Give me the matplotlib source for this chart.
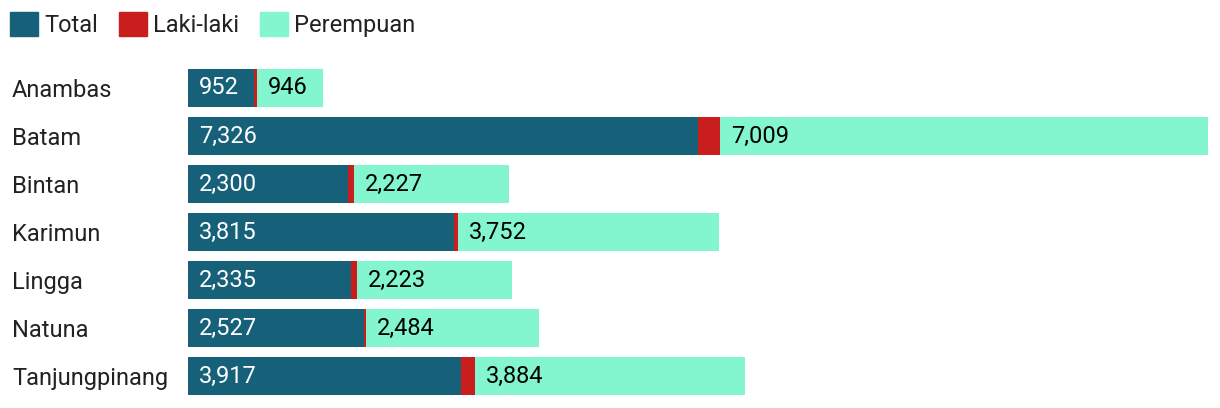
import numpy as np
import matplotlib.pyplot as plt
from matplotlib.patches import Patch

plt.rcParams['font.family'] = ['Roboto', 'DejaVu Sans']

regions = ["Anambas", "Batam", "Bintan", "Karimun", "Lingga", "Natuna", "Tanjungpinang"]
total = [952, 7326, 2300, 3815, 2335, 2527, 3917]
laki = [35, 310, 85, 60, 90, 30, 200]
perempuan = [946, 7009, 2227, 3752, 2223, 2484, 3884]

c_total = "#17607a"
c_laki = "#c81e1e"
c_perem = "#83f6d0"

fig = plt.figure(figsize=(12.2, 4.08), dpi=100)
ax = fig.add_axes([188 / 1220, 8 / 408, 1020 / 1220, 336 / 408])

y = np.arange(len(regions))
total = np.array(total)
laki = np.array(laki)
perempuan = np.array(perempuan)

h = 0.81
ax.barh(y, total, height=h, color=c_total)
ax.barh(y, laki, left=total, height=h, color=c_laki)
ax.barh(y, perempuan, left=total + laki, height=h, color=c_perem)

# value labels, a little inside the segment start
off = 155
for i in range(len(regions)):
    ax.text(off, y[i], f"{total[i]:,}", color="white", va="center", ha="left", fontsize=17)
    ax.text(total[i] + laki[i] + off, y[i], f"{perempuan[i]:,}", color="black",
            va="center", ha="left", fontsize=17)

ax.set_xlim(0, (total + laki + perempuan).max())
ax.set_ylim(len(regions) - 0.5, -0.5)
ax.set_xticks([])
ax.set_yticks(y)
ax.set_yticklabels(regions, fontsize=17, color="#222222", ha="left")
ax.tick_params(axis="y", length=0, pad=126.7)
for s in ax.spines.values():
    s.set_visible(False)

handles = [Patch(color=c_total, label="Total"),
           Patch(color=c_laki, label="Laki-laki"),
           Patch(color=c_perem, label="Perempuan")]
leg = fig.legend(handles=handles, loc="upper left", bbox_to_anchor=(10 / 1220, 1 - 12 / 408),
                 ncol=3, frameon=False, fontsize=17, handlelength=1.19, handleheight=1.19,
                 handletextpad=0.25, columnspacing=0.9, borderaxespad=0, borderpad=0)
for t in leg.get_texts():
    t.set_color("#222222")

fig.savefig("out.png", dpi=100)
